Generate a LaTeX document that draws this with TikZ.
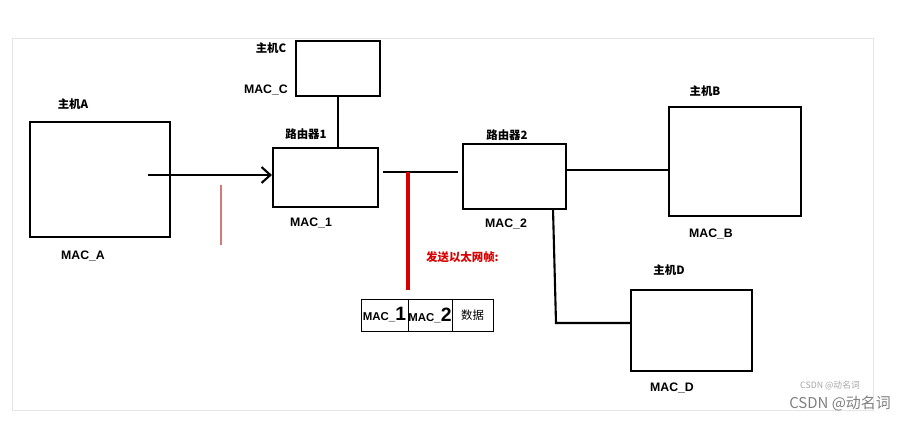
\documentclass[tikz,border=0pt]{standalone}
\usepackage{fontspec}
\setmainfont{Liberation Sans}
\newfontfamily\cjk{Noto Sans CJK SC}
\usetikzlibrary{arrows.meta}
\begin{document}
\begin{tikzpicture}[x=0.02cm,y=-0.02cm,
  box/.style={draw,line width=1.2pt},
  wire/.style={line width=1.2pt},
  lab/.style={font=\cjk\bfseries\fontsize{6.5}{8}\selectfont},
  mac/.style={font=\bfseries\fontsize{7}{8}\selectfont}]
\useasboundingbox (0,0) rectangle (912,420);
\fill[white] (0,0) rectangle (912,420);
\draw[black!10] (12,38) rectangle (873,410);
\node[box,minimum width=2.8cm,minimum height=2.3cm] (A) at (100,179.5) {};
\node[box,minimum width=1.68cm,minimum height=1.1cm] (C) at (338,68.5) {};
\node[box,minimum width=2.1cm,minimum height=1.18cm] (R1) at (325.5,177.5) {};
\node[box,minimum width=2.06cm,minimum height=1.3cm] (R2) at (514.5,176.5) {};
\node[box,minimum width=2.64cm,minimum height=2.18cm] (B) at (735,161.5) {};
\node[box,minimum width=2.42cm,minimum height=1.62cm] (D) at (691.5,330.5) {};
\node[lab] at (73,104) {主机A};
\node[mac] at (83,256) {MAC\_A};
\node[lab] at (271,48) {主机C};
\node[mac,anchor=east] at (294,90) {MAC\_C};
\node[lab] at (306,134) {路由器1};
\node[mac] at (311,223) {MAC\_1};
\node[lab] at (507,135) {路由器2};
\node[mac] at (506,224) {MAC\_2};
\node[lab] at (705,91) {主机B};
\node[mac] at (711,234) {MAC\_B};
\node[lab] at (669,270) {主机D};
\node[mac] at (672,388) {MAC\_D};
\draw[wire] (C.south) -- (R1.north -| C.south);
\coordinate (a0) at (148,175);
\draw[wire,-{Straight Barb[length=5pt,width=9pt]}] (a0) -- (R1.west |- a0);
\draw[red!50!gray!70,line width=0.6pt] (221,185) -- (221,245);
\coordinate (w1) at (383,172);
\coordinate (w2) at (458,172);
\draw[wire] (w1) -- (w2);
\coordinate (rb) at (408,290);
\draw[red!85!black,line width=1.8pt] (408,172) -- (rb);
\node[font=\cjk\bfseries\fontsize{6.5}{8}\selectfont,text=red!85!black,anchor=west] at (420,257) {发送以太网帧:};
\coordinate (bw) at (669,170);
\draw[wire] (R2.east |- bw) -- (bw);
\coordinate (d1) at (553,209);
\coordinate (d2) at (556,323);
\draw[wire] (d1) -- (d2) -- (D.west |- d2);
\node[draw,minimum width=0.94cm,minimum height=0.64cm,inner sep=0pt] (p1) at (384.5,315) {\bfseries\fontsize{6.5}{8}\selectfont MAC\_\fontsize{11}{11}\selectfont 1};
\node[draw,minimum width=0.88cm,minimum height=0.64cm,inner sep=0pt] (p2) at (430,315) {\bfseries\fontsize{6.5}{8}\selectfont MAC\_\fontsize{11}{11}\selectfont 2};
\node[draw,minimum width=0.82cm,minimum height=0.64cm,inner sep=0pt] (p3) at (472.5,315) {\cjk\fontsize{6.5}{8}\selectfont 数据};
\node[text=gray!70,font=\cjk\fontsize{5}{6}\selectfont] at (830,386) {CSDN @动名词};
\node[text=gray,font=\cjk\fontsize{8.5}{10}\selectfont] at (840,403) {CSDN @动名词};
\end{tikzpicture}
\end{document}
